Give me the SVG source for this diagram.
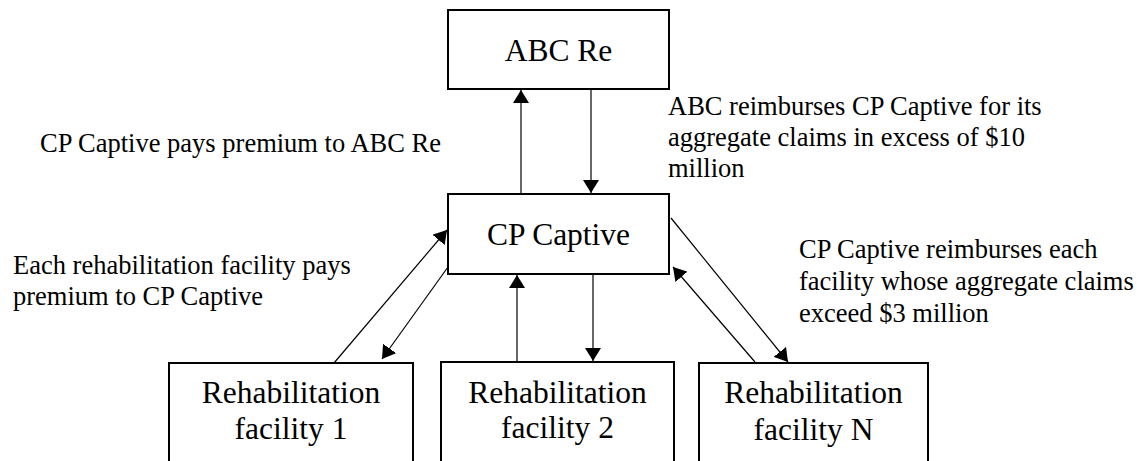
<svg xmlns="http://www.w3.org/2000/svg" width="1142" height="461" viewBox="0 0 1142 461">
<style>
text{font-family:"Liberation Serif","Times New Roman",Times,"DejaVu Serif",serif;fill:#000}
.box{fill:#fff;stroke:#000;stroke-width:2}
.bt{font-size:31.5px;text-anchor:middle}
.lb{font-size:26.5px}
.cn{stroke:#000;stroke-width:1.2;fill:none;marker-end:url(#ah)}
</style>
<defs>
<marker id="ah" viewBox="0 0 13 16" refX="13" refY="8" markerWidth="13" markerHeight="16" markerUnits="userSpaceOnUse" orient="auto">
<path d="M0,0 L13,8 L0,16 z" fill="#000"/>
</marker>
</defs>
<rect width="1142" height="461" fill="#fff"/>
<g id="abc-re">
<rect class="box" x="448" y="10" width="221" height="79"/>
<text class="bt" x="558.5" y="61" font-family="Liberation Serif, serif">ABC Re</text>
</g>
<g id="cp-captive">
<rect class="box" x="448" y="194" width="221" height="80"/>
<text class="bt" x="558.5" y="245" font-family="Liberation Serif, serif">CP Captive</text>
</g>
<g id="rehab-1">
<rect class="box" x="169" y="363" width="244" height="120"/>
<text class="bt" x="291" y="403" font-family="Liberation Serif, serif">Rehabilitation</text>
<text class="bt" x="291" y="439" font-family="Liberation Serif, serif">facility 1</text>
</g>
<g id="rehab-2">
<rect class="box" x="441" y="362" width="233" height="120"/>
<text class="bt" x="557.5" y="403" font-family="Liberation Serif, serif">Rehabilitation</text>
<text class="bt" x="557.5" y="438" font-family="Liberation Serif, serif">facility 2</text>
</g>
<g id="rehab-n">
<rect class="box" x="699" y="363" width="229" height="120"/>
<text class="bt" x="813.5" y="403" font-family="Liberation Serif, serif">Rehabilitation</text>
<text class="bt" x="813.5" y="440" font-family="Liberation Serif, serif">facility N</text>
</g>
<g id="connectors">
<line class="cn" x1="521" y1="193" x2="521" y2="90"/>
<line class="cn" x1="591" y1="90" x2="591" y2="193"/>
<line class="cn" x1="334" y1="363" x2="447" y2="230"/>
<line class="cn" x1="448" y1="267" x2="382" y2="359"/>
<line class="cn" x1="517" y1="361" x2="517" y2="275"/>
<line class="cn" x1="593" y1="275" x2="593" y2="361"/>
<line class="cn" x1="671" y1="218" x2="788" y2="362"/>
<line class="cn" x1="755" y1="362" x2="673" y2="267"/>
</g>
<g id="labels" font-family="Liberation Serif, serif">
<text class="lb" x="40" y="152">CP Captive pays premium to ABC Re</text>
<text class="lb" x="668" y="115">ABC reimburses CP Captive for its</text>
<text class="lb" x="668" y="146">aggregate claims in excess of $10</text>
<text class="lb" x="668" y="177">million</text>
<text class="lb" x="799" y="258">CP Captive reimburses each</text>
<text class="lb" x="799" y="290">facility whose aggregate claims</text>
<text class="lb" x="799" y="322">exceed $3 million</text>
<text class="lb" x="13" y="274">Each rehabilitation facility pays</text>
<text class="lb" x="13" y="305">premium to CP Captive</text>
</g>
</svg>
